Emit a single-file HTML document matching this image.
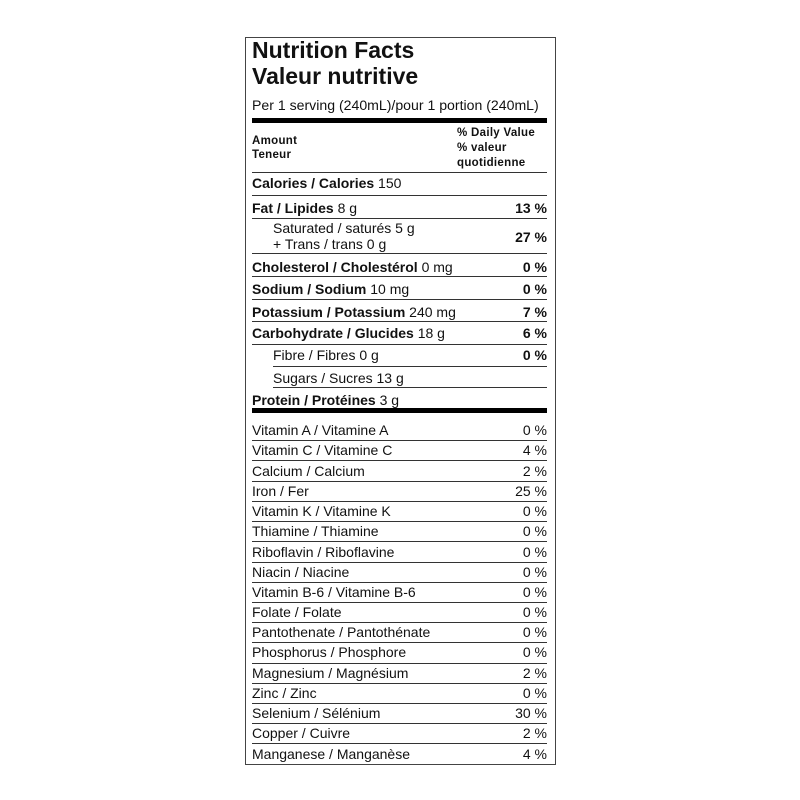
<!DOCTYPE html>
<html><head><meta charset="utf-8"><style>
body{margin:0;width:800px;height:800px;background:#fff;position:relative;font-family:"Liberation Sans",Arial,sans-serif;color:#111;overflow:hidden}
.box{position:absolute;left:245px;top:37px;width:309px;height:726px;border:1px solid #444}
.t{position:absolute;left:252px;font-size:14px;line-height:16px;white-space:nowrap}
.r{position:absolute;right:253px;font-size:14px;line-height:16px;white-space:nowrap;text-align:right}
.b{font-weight:bold}
.l{position:absolute;left:252px;width:295px;height:1px;background:#333}
.k{position:absolute;left:252px;width:295px;background:#000}
.in{left:273px}
.lin{left:273px;width:274px}
</style></head><body>
<div class="box"></div>
<div class="t b" style="top:37px;font-size:23px;line-height:26px">Nutrition Facts</div>
<div class="t b" style="top:63px;font-size:23px;line-height:26px">Valeur nutritive</div>
<div class="t" style="top:97px;font-size:14.1px">Per 1 serving (240mL)/pour 1 portion (240mL)</div>
<div class="k" style="top:118px;height:5px"></div>
<div class="t b" style="top:134px;font-size:11.5px;line-height:14px;letter-spacing:0.3px">Amount<br>Teneur</div>
<div class="t b" style="left:457px;top:126px;font-size:11.5px;line-height:15px;letter-spacing:0.3px">% Daily Value<br>% valeur<br>quotidienne</div>
<div class="l" style="top:172px"></div>
<div class="t" style="top:175px"><b>Calories / Calories</b> 150</div>
<div class="l" style="top:195px"></div>
<div class="t" style="top:200px"><b>Fat / Lipides</b> 8 g</div><div class="r b" style="top:200px">13 %</div>
<div class="l" style="top:218px"></div>
<div class="t in" style="top:220px">Saturated / saturés 5 g</div>
<div class="t in" style="top:236px">+ Trans / trans 0 g</div><div class="r b" style="top:229px">27 %</div>
<div class="l" style="top:253px"></div>
<div class="t" style="top:259px"><b>Cholesterol / Cholestérol</b> 0 mg</div><div class="r b" style="top:259px">0 %</div>
<div class="l" style="top:276px"></div>
<div class="t" style="top:281px"><b>Sodium / Sodium</b> 10 mg</div><div class="r b" style="top:281px">0 %</div>
<div class="l" style="top:299px"></div>
<div class="t" style="top:304px"><b>Potassium / Potassium</b> 240 mg</div><div class="r b" style="top:304px">7 %</div>
<div class="l" style="top:321px"></div>
<div class="t" style="top:325px"><b>Carbohydrate / Glucides</b> 18 g</div><div class="r b" style="top:325px">6 %</div>
<div class="l" style="top:344px"></div>
<div class="t in" style="top:347px">Fibre / Fibres 0 g</div><div class="r b" style="top:347px">0 %</div>
<div class="l lin" style="top:366px"></div>
<div class="t in" style="top:370px">Sugars / Sucres 13 g</div>
<div class="l lin" style="top:387px"></div>
<div class="t" style="top:392px"><b>Protein / Protéines</b> 3 g</div>
<div class="k" style="top:408px;height:5px"></div>

<div class="t" style="top:422px">Vitamin A / Vitamine A</div><div class="r" style="top:422px">0 %</div>
<div class="l" style="top:440px"></div>
<div class="t" style="top:442px">Vitamin C / Vitamine C</div><div class="r" style="top:442px">4 %</div>
<div class="l" style="top:460px"></div>
<div class="t" style="top:463px">Calcium / Calcium</div><div class="r" style="top:463px">2 %</div>
<div class="l" style="top:481px"></div>
<div class="t" style="top:483px">Iron / Fer</div><div class="r" style="top:483px">25 %</div>
<div class="l" style="top:501px"></div>
<div class="t" style="top:503px">Vitamin K / Vitamine K</div><div class="r" style="top:503px">0 %</div>
<div class="l" style="top:521px"></div>
<div class="t" style="top:523px">Thiamine / Thiamine</div><div class="r" style="top:523px">0 %</div>
<div class="l" style="top:541px"></div>
<div class="t" style="top:544px">Riboflavin / Riboflavine</div><div class="r" style="top:544px">0 %</div>
<div class="l" style="top:562px"></div>
<div class="t" style="top:564px">Niacin / Niacine</div><div class="r" style="top:564px">0 %</div>
<div class="l" style="top:582px"></div>
<div class="t" style="top:584px">Vitamin B-6 / Vitamine B-6</div><div class="r" style="top:584px">0 %</div>
<div class="l" style="top:602px"></div>
<div class="t" style="top:604px">Folate / Folate</div><div class="r" style="top:604px">0 %</div>
<div class="l" style="top:622px"></div>
<div class="t" style="top:624px">Pantothenate / Pantothénate</div><div class="r" style="top:624px">0 %</div>
<div class="l" style="top:642px"></div>
<div class="t" style="top:644px">Phosphorus / Phosphore</div><div class="r" style="top:644px">0 %</div>
<div class="l" style="top:663px"></div>
<div class="t" style="top:665px">Magnesium / Magnésium</div><div class="r" style="top:665px">2 %</div>
<div class="l" style="top:683px"></div>
<div class="t" style="top:685px">Zinc / Zinc</div><div class="r" style="top:685px">0 %</div>
<div class="l" style="top:703px"></div>
<div class="t" style="top:705px">Selenium / Sélénium</div><div class="r" style="top:705px">30 %</div>
<div class="l" style="top:723px"></div>
<div class="t" style="top:725px">Copper / Cuivre</div><div class="r" style="top:725px">2 %</div>
<div class="l" style="top:743px"></div>
<div class="t" style="top:746px">Manganese / Manganèse</div><div class="r" style="top:746px">4 %</div>
</body></html>
